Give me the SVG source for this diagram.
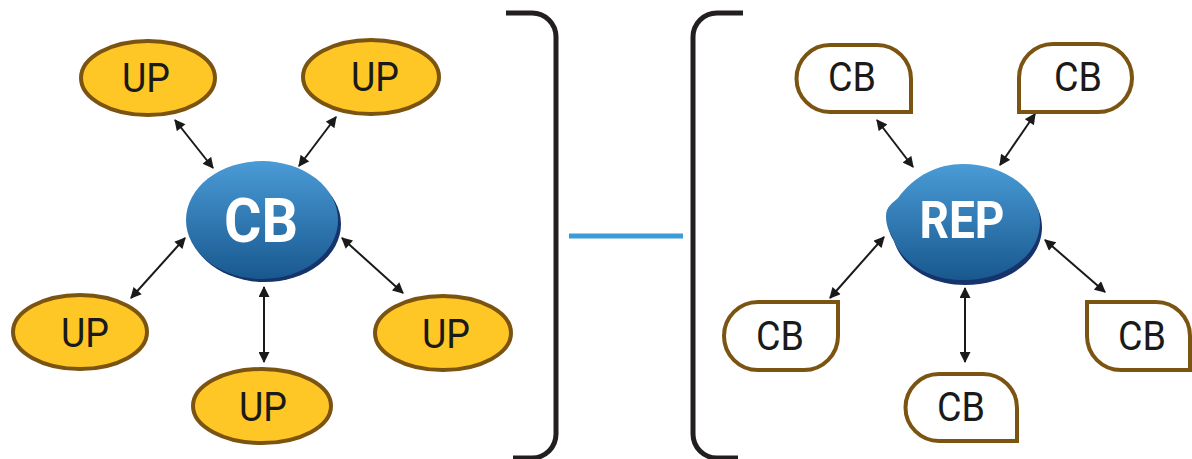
<svg xmlns="http://www.w3.org/2000/svg" width="1192" height="459" viewBox="0 0 1192 459">
<style>
.up{fill:#FFC726;stroke:#7B5412;stroke-width:4}
.cb{fill:#fff;stroke:#7B5412;stroke-width:4}
.lbl{font-family:Roboto,"Liberation Sans",sans-serif;font-size:40px;fill:#1a1a1a;text-anchor:middle}
.big{font-family:Roboto,"Liberation Sans",sans-serif;font-weight:bold;fill:#fff;text-anchor:middle}
.con{stroke:#1a1a1a;stroke-width:2;fill:none;marker-start:url(#ah);marker-end:url(#ah)}
.br{stroke:#231f20;stroke-width:5;fill:none}
</style>
<defs>
<marker id="ah" viewBox="0 0 10 10" refX="9" refY="5" markerWidth="6" markerHeight="5.5" orient="auto-start-reverse" markerUnits="strokeWidth">
<path d="M0,0 L10,5 L0,10 Z" fill="#1a1a1a"/>
</marker>
<linearGradient id="bg" x1="0" y1="0" x2="0" y2="1">
<stop offset="0" stop-color="#4A9BD6"/>
<stop offset="1" stop-color="#18588F"/>
</linearGradient>
<filter id="sh" x="-20%" y="-100%" width="140%" height="400%">
<feGaussianBlur stdDeviation="2.5"/>
</filter>
</defs>

<g id="brackets">
<path class="br" d="M506,13 H532 A24,24 0 0 1 556,37 V434 A24,24 0 0 1 532,458 H513"/>
<path class="br" d="M743,13 H717 A24,24 0 0 0 693,37 V434 A24,24 0 0 0 717,458 H738"/>
</g>

<g id="link">
<line x1="574" y1="241" x2="688" y2="241" stroke="#888" stroke-width="5" filter="url(#sh)" opacity="0.8"/>
<line x1="569" y1="236" x2="683" y2="236" stroke="#3A9DD8" stroke-width="5"/>
</g>

<g id="connectors">
<line class="con" x1="175" y1="120" x2="213" y2="168"/>
<line class="con" x1="336" y1="117" x2="299" y2="166"/>
<line class="con" x1="185" y1="238" x2="131" y2="298"/>
<line class="con" x1="342" y1="238" x2="403" y2="293"/>
<line class="con" x1="264" y1="287" x2="264" y2="362"/>
<line class="con" x1="877" y1="120" x2="913" y2="167"/>
<line class="con" x1="1035" y1="114" x2="1000" y2="165"/>
<line class="con" x1="884" y1="237" x2="830" y2="298"/>
<line class="con" x1="1045" y1="240" x2="1105" y2="292"/>
<line class="con" x1="965" y1="288" x2="965" y2="362"/>
</g>

<g id="up-tl"><ellipse class="up" cx="148" cy="78" rx="67" ry="37"/><text class="lbl" x="146" y="92" textLength="48" lengthAdjust="spacingAndGlyphs">UP</text></g>
<g id="up-tr"><ellipse class="up" cx="371" cy="77" rx="68" ry="37"/><text class="lbl" x="375" y="91" textLength="48" lengthAdjust="spacingAndGlyphs">UP</text></g>
<g id="up-bl"><ellipse class="up" cx="80" cy="332" rx="67" ry="37"/><text class="lbl" x="85" y="347" textLength="48" lengthAdjust="spacingAndGlyphs">UP</text></g>
<g id="up-br"><ellipse class="up" cx="443" cy="333" rx="68" ry="37"/><text class="lbl" x="446" y="348" textLength="48" lengthAdjust="spacingAndGlyphs">UP</text></g>
<g id="up-b"><ellipse class="up" cx="262" cy="406" rx="69" ry="37"/><text class="lbl" x="263" y="421" textLength="48" lengthAdjust="spacingAndGlyphs">UP</text></g>

<g id="cb-center">
<ellipse cx="265" cy="224" rx="76" ry="58" fill="#16336C"/>
<ellipse cx="262" cy="220" rx="76" ry="59" fill="url(#bg)"/>
<text class="big" x="261" y="242" font-size="62" textLength="74" lengthAdjust="spacingAndGlyphs">CB</text>
</g>

<g id="rep">
<path fill="#16336C" transform="translate(2,5)" d="M886,216 C886,206 893,203 898,198 C915,175 938,164 963,164 C1005,164 1040,190 1040,222 C1040,256 1005,280 963,280 C928,280 900,262 892,236 C888,230 886,224 886,216 Z"/>
<path fill="url(#bg)" d="M886,216 C886,206 893,203 898,198 C915,175 938,164 963,164 C1005,164 1040,190 1040,222 C1040,256 1005,280 963,280 C928,280 900,262 892,236 C888,230 886,224 886,216 Z"/>
<text class="big" x="962" y="238" font-size="52" textLength="85" lengthAdjust="spacingAndGlyphs">REP</text>
</g>

<g id="cb-tl"><path class="cb" d="M830,45 H877 A34,34 0 0 1 911,79 V112 H830 A33.5,33.5 0 0 1 830,45 Z"/><text class="lbl" x="852" y="91" textLength="48" lengthAdjust="spacingAndGlyphs">CB</text></g>
<g id="cb-tr"><path class="cb" d="M1053,44 H1098 A34,34 0 0 1 1098,112 H1019 V78 A34,34 0 0 1 1053,44 Z"/><text class="lbl" x="1078" y="91" textLength="48" lengthAdjust="spacingAndGlyphs">CB</text></g>
<g id="cb-bl"><path class="cb" d="M758,302 H838 V336 A34,34 0 0 1 804,370 H758 A34,34 0 0 1 758,302 Z"/><text class="lbl" x="780" y="350" textLength="48" lengthAdjust="spacingAndGlyphs">CB</text></g>
<g id="cb-br"><path class="cb" d="M1087,302 H1156 A34,34 0 0 1 1190,336 V370 H1121 A34,34 0 0 1 1087,336 Z"/><text class="lbl" x="1142" y="350" textLength="48" lengthAdjust="spacingAndGlyphs">CB</text></g>
<g id="cb-b"><path class="cb" d="M939,374 H983 A34,34 0 0 1 1017,408 V441 H939 A33.5,33.5 0 0 1 939,374 Z"/><text class="lbl" x="961" y="421" textLength="48" lengthAdjust="spacingAndGlyphs">CB</text></g>
</svg>
